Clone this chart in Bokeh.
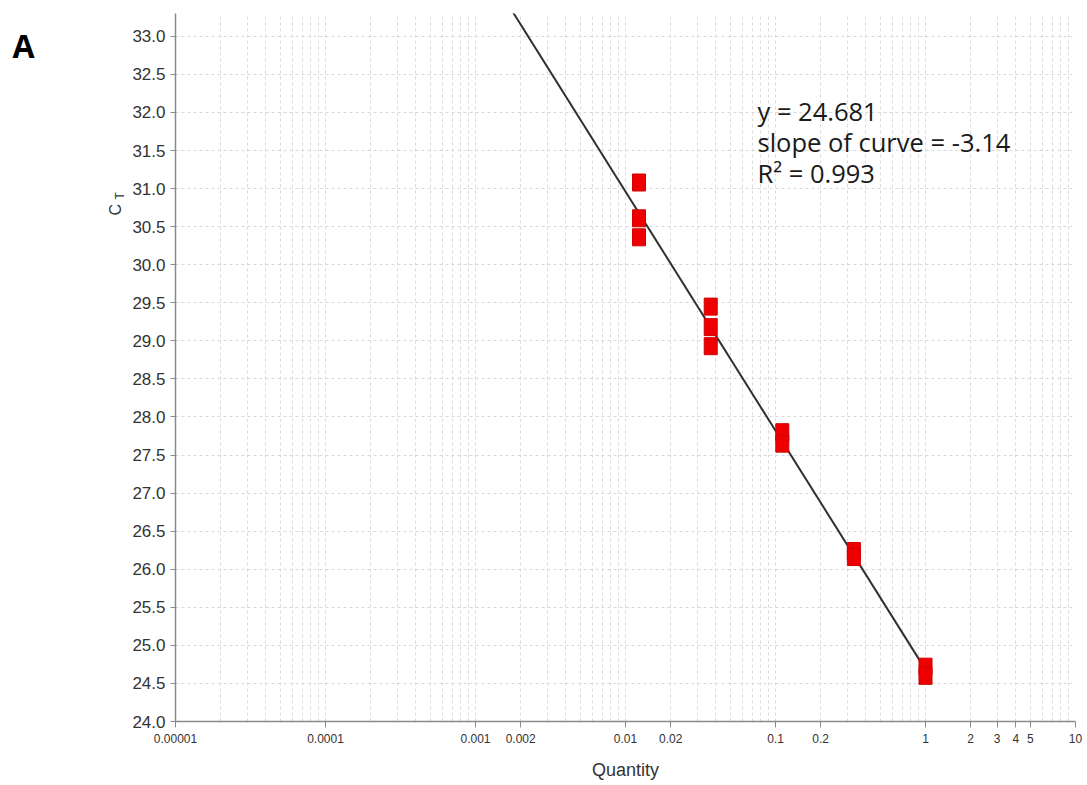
import math
from bokeh.plotting import figure
from bokeh.models import (Range1d, FixedTicker, Label, ColumnDataSource,
                          CustomJSTickFormatter, PrintfTickFormatter)
from bokeh.embed import file_html
from bokeh.resources import INLINE

# ---- data ----
quantity = [0.0123, 0.0123, 0.0123, 0.037, 0.037, 0.037,
            0.111, 0.111, 0.333, 0.333, 1.0, 1.0]
ct = [31.08, 30.61, 30.36, 29.45, 29.18, 28.93,
      27.80, 27.65, 26.24, 26.16, 24.72, 24.60]

intercept = 24.681
slope = -3.14
r_squared = 0.993
fit_x = [0.001, 1.0]

x_tick_values = [0.00001, 0.0001, 0.001, 0.002, 0.01, 0.02, 0.1, 0.2, 1, 2, 3, 4, 5, 10]
x_tick_labels = ["0.00001", "0.0001", "0.001", "0.002", "0.01", "0.02",
                 "0.1", "0.2", "1", "2", "3", "4", "5", "10"]
y_tick_values = [24.0, 24.5, 25.0, 25.5, 26.0, 26.5, 27.0, 27.5, 28.0, 28.5,
                 29.0, 29.5, 30.0, 30.5, 31.0, 31.5, 32.0, 32.5, 33.0]

# vertical grid at every 1..9 x 10^k
grid_x = [m * 10.0 ** k for k in range(-5, 1) for m in range(1, 10)] + [10.0]

TXT = "#333333"
AX = "#8a8a8a"
GRID = "#d9d9d9"

p = figure(width=1087, height=785, x_axis_type="log",
           x_range=Range1d(0.00001, 10), y_range=Range1d(24.0, 33.3),
           output_backend="svg", toolbar_location=None,
           min_border_left=175, min_border_right=12,
           min_border_top=13, min_border_bottom=64)
p.outline_line_color = None
p.background_fill_color = "white"
p.border_fill_color = "white"

# axes
p.xaxis.ticker = FixedTicker(ticks=x_tick_values, minor_ticks=[])
p.xaxis.formatter = CustomJSTickFormatter(args=dict(labels=x_tick_labels, vals=x_tick_values), code="""
    for (let i = 0; i < vals.length; i++) {
        if (Math.abs(Math.log10(vals[i]) - Math.log10(tick)) < 1e-6) { return labels[i]; }
    }
    return "";
""")
p.yaxis.ticker = FixedTicker(ticks=y_tick_values, minor_ticks=[])
p.yaxis.formatter = PrintfTickFormatter(format="%.1f")

for ax in (p.xaxis[0], p.yaxis[0]):
    ax.axis_line_color = AX
    ax.axis_line_width = 1.5
    ax.major_tick_line_color = AX
    ax.major_tick_out = 6
    ax.major_tick_in = 0
    ax.minor_tick_line_color = None
    ax.major_label_text_color = TXT

p.xaxis.major_label_text_font = "Liberation Sans"
p.xaxis.major_label_text_font_size = "12px"
p.xaxis.major_label_standoff = 6
p.xaxis.axis_label = "Quantity"
p.xaxis.axis_label_text_font = "Liberation Sans"
p.xaxis.axis_label_text_font_size = "18px"
p.xaxis.axis_label_text_font_style = "normal"
p.xaxis.axis_label_text_color = TXT
p.xaxis.axis_label_standoff = 14

p.yaxis.major_label_text_font = "Liberation Sans"
p.yaxis.major_label_text_font_size = "17px"
p.yaxis.major_label_standoff = 5
p.yaxis.major_tick_out = 5

# grids
p.xgrid.ticker = FixedTicker(ticks=grid_x)
p.ygrid.ticker = FixedTicker(ticks=y_tick_values)
for g in (p.xgrid[0], p.ygrid[0]):
    g.grid_line_color = GRID
    g.grid_line_dash = "3 3"
    g.grid_line_width = 1

# regression line
fit_y = [intercept + slope * math.log10(x) for x in fit_x]
p.line(fit_x, fit_y, line_color="#303030", line_width=2)

# data markers
src = ColumnDataSource(dict(q=quantity, ct=ct))
p.rect(x="q", y="ct", width=13, height=17, width_units="screen", height_units="screen",
       fill_color="#ee0000", line_color="#d00000", line_width=1, source=src)

# annotation text (frame-relative screen coordinates)
for txt, yy in ((f"y = {intercept}", 611),
                (f"slope of curve = {slope}", 580),
                (f"R\u00b2 = {r_squared}", 549)):
    p.add_layout(Label(x=582, y=yy, x_units="screen", y_units="screen", text=txt,
                       text_font="Open Sans", text_font_size="25.5px", text_color="#1a1a1a",
                       text_baseline="alphabetic", text_align="left"))

# panel letter and y title, placed in the left side panel (outside the frame)
p.add_layout(Label(x=-95, y=676, x_units="screen", y_units="screen", text="A",
                   text_font="Open Sans", text_font_style="bold", text_font_size="32px",
                   text_color="black", text_baseline="alphabetic"), "left")
p.add_layout(Label(x=25, y=506, x_units="screen", y_units="screen", text="C",
                   angle=math.pi / 2, text_font="Liberation Sans", text_font_size="16px",
                   text_color=TXT, text_baseline="middle", text_align="left"), "left")
p.add_layout(Label(x=43, y=522, x_units="screen", y_units="screen", text="T",
                   angle=math.pi / 2, text_font="Liberation Sans", text_font_size="12px",
                   text_color=TXT, text_baseline="middle", text_align="left"), "left")

open("out.html", "w").write(file_html(p, INLINE))
